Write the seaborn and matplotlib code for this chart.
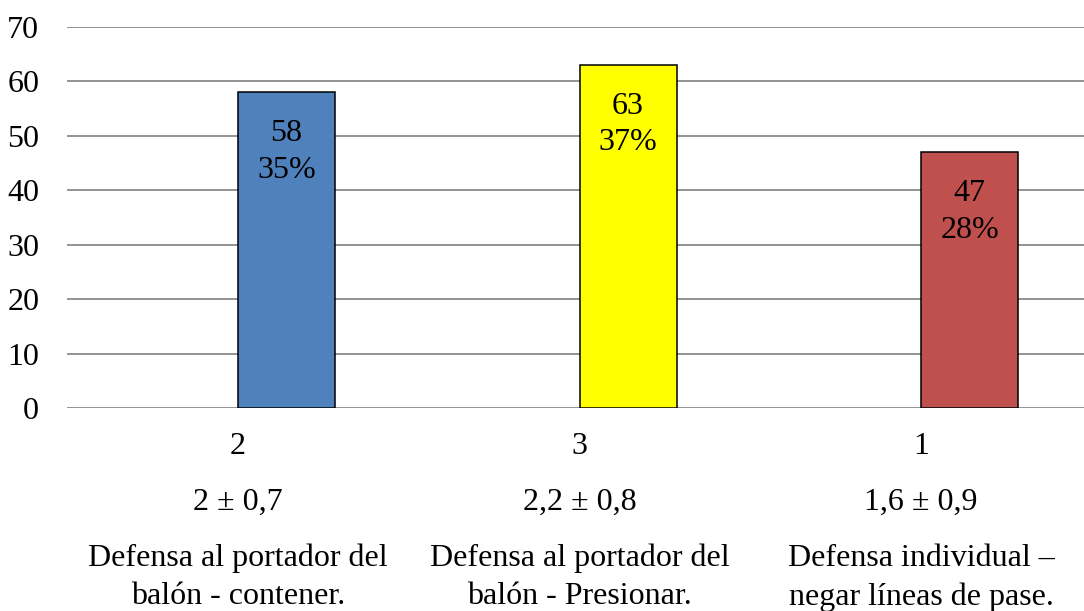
import pandas as pd
import matplotlib.pyplot as plt
import matplotlib.transforms as mtransforms
import seaborn as sns

# data
ranks = ["2", "3", "1"]
mean_sd = ["2 ± 0,7", "2,2 ± 0,8", "1,6 ± 0,9"]
names = ["Defensa al portador del\nbalón - contener.",
         "Defensa al portador del\nbalón - Presionar.",
         "Defensa individual –\nnegar líneas de pase."]
counts = [58, 63, 47]
percents = ["35%", "37%", "28%"]
colors = ["#4F81BD", "#FFFF00", "#C0504D"]

df = pd.DataFrame({"name": names, "count": counts})

sns.set_style("white")
plt.rcParams["font.family"] = ["Liberation Serif", "DejaVu Serif"]
plt.rcParams["text.color"] = "black"
plt.rcParams["ytick.color"] = "black"

fig = plt.figure(figsize=(10.84, 6.11), dpi=100)
ax = fig.add_axes([67 / 1084, 1 - 408 / 611, 1025 / 1084, 381 / 611])

bar_w = 0.284
sns.barplot(data=df, x="name", y="count", hue="name", palette=colors,
            width=bar_w, edgecolor="black", linewidth=1.1, legend=False,
            saturation=1, ax=ax, zorder=3)

# category centres sit at the left edge of each bar
cat_pos = [i - bar_w / 2 for i in range(len(names))]
ax.set_xlim(cat_pos[0] - 0.5, cat_pos[-1] + 0.5)
ax.set_ylim(0, 70)
ax.set_yticks(range(0, 71, 10))
ax.set_xticks([])
ax.set_xlabel("")
ax.set_ylabel("")
ax.tick_params(axis="y", length=0, pad=20, labelsize=23, labelcolor="black")
for s in ax.spines.values():
    s.set_visible(False)
ax.grid(axis="y", color="#808080", linewidth=1.2, zorder=0)
ax.set_axisbelow(True)

trans = mtransforms.blended_transform_factory(ax.transData, ax.transAxes)
for x, r, m, n in zip(cat_pos, ranks, mean_sd, names):
    ax.text(x, -0.102, r, transform=trans, ha="center", va="center", fontsize=23)
    ax.text(x, -0.247, m, transform=trans, ha="center", va="center", fontsize=23)
    ax.text(x, -0.445, n, transform=trans, ha="center", va="center",
            fontsize=23, linespacing=1.42)

for i, (c, p) in enumerate(zip(counts, percents)):
    ax.annotate(f"{c}\n{p}", xy=(i, c), xytext=(0, -43), textcoords="offset points",
                ha="center", va="center", fontsize=23, linespacing=1.33)

fig.savefig("out.png", dpi=100)
